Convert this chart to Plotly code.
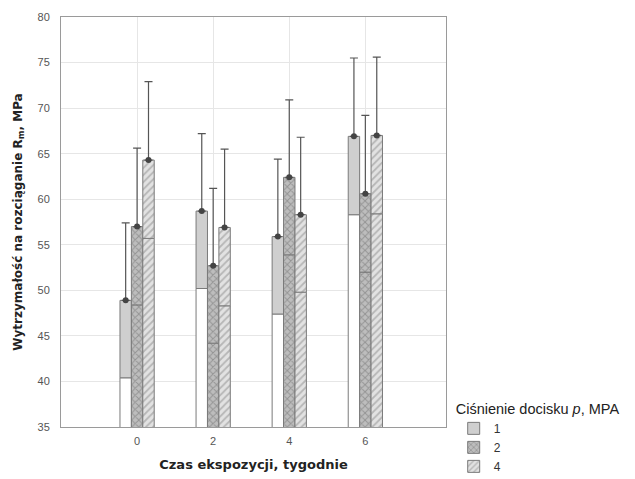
import plotly.graph_objects as go

weeks = ["0", "2", "4", "6"]
series_names = ["1", "2", "4"]
means = {
    "1": [48.9, 58.7, 55.9, 66.9],
    "2": [57.0, 52.7, 62.4, 60.6],
    "4": [64.3, 56.9, 58.3, 67.0],
}
sds = {
    "1": [8.5, 8.5, 8.5, 8.6],
    "2": [8.6, 8.5, 8.5, 8.6],
    "4": [8.6, 8.6, 8.5, 8.6],
}

fills = {
    "1": dict(upper=dict(color="#cfcfcf", pattern=dict(shape="")),
              lower=dict(color="white", pattern=dict(shape=""))),
    "2": dict(upper=dict(color="#ffffff", pattern=dict(shape="x", fgcolor="#6a6a6a", bgcolor="#bdbdbd", size=5, solidity=0.35)),
              lower=dict(color="#ffffff", pattern=dict(shape="x", fgcolor="#6a6a6a", bgcolor="#bdbdbd", size=5, solidity=0.35))),
    "4": dict(upper=dict(color="#ffffff", pattern=dict(shape="/", fgcolor="#8a8a8a", bgcolor="#e2e2e2", size=5, solidity=0.35)),
              lower=dict(color="#ffffff", pattern=dict(shape="/", fgcolor="#8a8a8a", bgcolor="#e2e2e2", size=5, solidity=0.35))),
}

xpos = list(range(len(weeks)))
bw = 0.15
fig = go.Figure()
for k, name in enumerate(series_names):
    off = -1.5 * bw + k * bw
    m = means[name]
    s = sds[name]
    low = [mi - si for mi, si in zip(m, s)]
    upper_h = [mi - li for mi, li in zip(m, low)]
    fig.add_trace(go.Bar(
        x=xpos, y=low, offset=off, width=bw,
        marker=dict(color=fills[name]["lower"]["color"], pattern=fills[name]["lower"]["pattern"],
                    line=dict(color="#7a7a7a", width=1)),
        showlegend=False, legendgroup=name, hoverinfo="skip"))
    fig.add_trace(go.Bar(
        x=xpos, y=upper_h, base=low, offset=off, width=bw, name=name,
        marker=dict(color=fills[name]["upper"]["color"], pattern=fills[name]["upper"]["pattern"],
                    line=dict(color="#7a7a7a", width=1)),
        legendgroup=name))
    fig.add_trace(go.Scatter(
        x=[p + off + bw / 2 for p in xpos], y=m, mode="markers",
        marker=dict(symbol="circle", size=6, color="#444444"),
        error_y=dict(type="data", symmetric=False, array=s, arrayminus=[0] * len(m),
                     color="#555555", thickness=1.2, width=4),
        showlegend=False, legendgroup=name, hoverinfo="skip"))

# the page body has an 8px margin, so the figure is sized/offset to compensate
fig.update_layout(
    width=627, height=471,
    margin=dict(l=53, r=189, t=9, b=52, autoexpand=False),
    barmode="overlay",
    plot_bgcolor="white", paper_bgcolor="white",
    font=dict(family="Liberation Sans, Arial, sans-serif", color="#222222"),
    xaxis=dict(range=[-1, 4.06], tickmode="array", tickvals=xpos, ticktext=weeks,
               showgrid=True, gridcolor="#e6e6e6", zeroline=False, automargin=False,
               showline=True, linecolor="#9a9a9a", mirror=True,
               tickfont=dict(size=11, color="#555555"), ticks="outside", ticklen=4, tickcolor="rgba(0,0,0,0)",
               title=dict(text="<b>Czas ekspozycji, tygodnie</b>",
                          font=dict(size=13, color="#222222", family="DejaVu Sans, sans-serif"), standoff=13)),
    yaxis=dict(range=[35, 80], tickvals=[35, 40, 45, 50, 55, 60, 65, 70, 75, 80],
               showgrid=True, gridcolor="#e6e6e6", zeroline=False, automargin=False,
               showline=True, linecolor="#9a9a9a", mirror=True,
               tickfont=dict(size=11, color="#555555"), ticks="outside", ticklen=8, tickcolor="rgba(0,0,0,0)",
               title=dict(text="<b>Wytrzymałość na rozciąganie R<sub>m</sub>, MPa</b>",
                          font=dict(size=12, color="#222222", family="DejaVu Sans, sans-serif"), standoff=12)),
    legend=dict(x=1.02, y=0.078, xanchor="left", yanchor="top",
                title=dict(text="Ciśnienie docisku <i>p</i>, MPA", font=dict(size=14.5, color="#222222")),
                font=dict(size=12, color="#333333"), bgcolor="rgba(0,0,0,0)", tracegroupgap=0,
                itemwidth=30),
)

fig.write_html("out.html")
